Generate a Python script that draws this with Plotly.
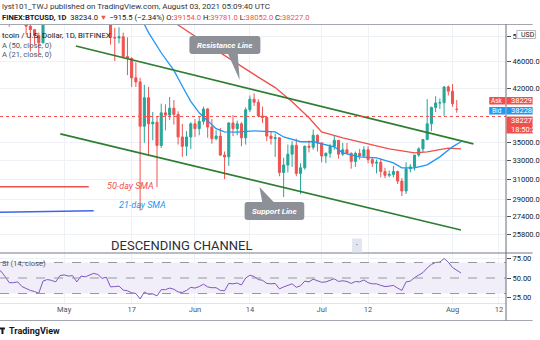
import math
import pandas as pd
import plotly.graph_objects as go

# ---------------- data ----------------
dates = pd.date_range("2021-04-15", "2021-08-03", freq="D")

opens = [63100, 63300, 61400, 60100, 56200, 55700, 56500, 53800, 51700, 51100, 50100, 48900, 54000, 55000, 54800, 53600,
         57700, 57800, 56600, 57200, 53200, 57500, 56400, 57400, 58900, 58300, 55900, 56700, 49800, 49700, 49900, 46700,
         46400, 43500, 42900, 37000, 40700, 37300, 37500, 34700, 38700, 38400, 39300, 38500, 35700, 34600, 35700,
         37300, 36700, 37600, 39200, 36900, 35500, 35800, 33600, 33400, 37400, 36700, 37300, 35600, 39100, 40500,
         40100, 38300, 38100, 35800, 35500, 35600, 31700, 32500, 33700, 34700, 31600, 32200, 34600, 34500, 35900,
         35000, 33500, 33800, 34600, 35300, 33700, 34200, 33800, 32900, 33800, 33500, 34200, 33100, 32700, 32800,
         31800, 31400, 31500, 31800, 30800, 29800, 32100, 32300, 33600, 34300, 35400, 37300, 39400, 40000, 40020,
         42200, 41600, 39154]
highs = [63800, 63600, 62500, 61100, 57500, 57000, 56800, 55500, 52100, 51200, 50600, 54400, 55400, 56400, 55200, 58000,
         58400, 57900, 58900, 57200, 57800, 58300, 58600, 59500, 59300, 59600, 56900, 57900, 51400, 51500, 50600, 49800,
         46600, 45800, 43500, 42500, 42200, 38800, 38200, 39900, 39800, 40800, 40400, 38900, 37300, 36400, 37500,
         37900, 38200, 39500, 39300, 37900, 36500, 36800, 34000, 37500, 38400, 37700, 37500, 39400, 41000, 41300,
         40500, 39500, 38200, 36400, 36100, 35700, 33300, 34800, 35200, 35500, 32700, 34700, 35300, 36600, 36000,
         35000, 33900, 34900, 35900, 35300, 35000, 35000, 33900, 34000, 34300, 34600, 34600, 33300, 33100, 33200,
         32200, 31900, 32400, 31900, 31100, 32800, 32600, 33600, 34500, 35400, 40500, 39500, 40900, 40600, 42300,
         42400, 42600, 40400, 39781]
lows = [62000, 60000, 59600, 51600, 54200, 53400, 53600, 50300, 47500, 48700, 47200, 48800, 53300, 53900, 52400, 53000,
        57000, 56000, 56500, 53100, 52900, 55300, 55400, 56900, 56300, 53500, 54400, 48600, 46000, 48800, 46600, 43900,
        42200, 42200, 27900, 35000, 33500, 35300, 30200, 34400, 36500, 37800, 37200, 34800, 33400, 33500, 34300,
        35700, 35900, 37200, 35600, 34900, 35300, 33500, 31000, 32400, 35800, 35900, 34600, 34800, 38800, 39600,
        38100, 37400, 35200, 34800, 33400, 31300, 29200, 31700, 32300, 31300, 29500, 32000, 33900, 34200, 34000,
        32800, 32700, 33300, 34200, 33200, 33500, 33700, 32100, 32300, 33100, 33300, 32700, 32300, 31600, 31200,
        31100, 31200, 31200, 30500, 29300, 29500, 31700, 31900, 33400, 33900, 35300, 36400, 38800, 39200, 38300,
        41000, 39500, 38700, 38052]
closes = [63300, 61400, 60100, 56200, 55700, 56500, 53800, 51700, 51100, 50100, 48900, 54000, 55000, 54800, 53600, 57700,
          57800, 56600, 57200, 53200, 57500, 56400, 57400, 58900, 58300, 55900, 56700, 49800, 49700, 49900, 46700, 46400,
          43500, 42900, 37000, 40700, 37300, 37500, 34700, 38700, 38400, 39300, 38500, 35700, 34600, 35700, 37300,
          36700, 37600, 39200, 36900, 35500, 35800, 33600, 33400, 37400, 36700, 37300, 35600, 39100, 40500, 40100,
          38300, 38100, 35800, 35500, 35600, 31700, 32500, 33700, 34700, 31600, 32200, 34600, 34500, 35900, 35000,
          33500, 33800, 34600, 35300, 33700, 34200, 33800, 32900, 33800, 33500, 34200, 33100, 32700, 32800, 31800,
          31400, 31500, 31800, 30800, 29800, 32100, 32300, 33600, 34300, 35400, 37300, 39400, 40000, 40020, 42200,
          41600, 39900, 39154, 38227]

rsi = [62, 59, 52, 44, 44, 45, 39, 36, 34, 32.5, 30.5, 46, 48, 47, 45, 53,
       54, 52.5, 53, 45, 52.5, 51.5, 53.5, 56, 54.5, 49.5, 51, 38.5, 39, 39.5, 34.5, 33.5, 31, 30, 23, 32, 29, 29.5,
       27, 35, 35, 37, 35.5, 32, 31.5, 34, 38,
       37, 39, 42, 38.5, 37.5, 37.5, 34, 33.5, 43, 42.5, 43.5, 41, 50, 53.5, 52, 48, 47, 43, 42.5, 43, 36, 38.5, 41,
       42.5, 38, 40, 46, 45, 48.5, 47,
       44.5, 45, 47, 49, 45.5, 46.5, 45.5, 43, 45.5, 45, 47.5, 44, 42.5, 42.5, 40.5, 39, 39.5, 40.5, 37, 34, 45, 46,
       50.5, 53.5, 57, 63, 67.5, 70, 70.5, 75, 70.5,
       63.5, 60.5, 56.5]

sma50_dates = ["2021-05-21", "2021-05-28", "2021-06-04", "2021-06-10", "2021-06-16", "2021-06-20", "2021-06-24",
               "2021-06-28", "2021-07-01", "2021-07-06", "2021-07-11", "2021-07-17", "2021-07-23", "2021-07-26",
               "2021-07-31", "2021-08-03"]
sma50 = [54800, 51900, 48600, 46000, 43600, 42100, 40150, 38060, 36310, 35590, 35000, 34300, 33850, 33950, 34400, 34300]

sma21_dates = ["2021-05-19", "2021-05-21", "2021-05-24", "2021-05-27", "2021-05-29", "2021-05-31", "2021-06-02",
               "2021-06-04", "2021-06-06", "2021-06-08", "2021-06-11", "2021-06-15", "2021-06-20", "2021-06-22",
               "2021-06-26", "2021-06-29", "2021-07-04", "2021-07-06", "2021-07-10", "2021-07-14", "2021-07-18",
               "2021-07-20", "2021-07-23", "2021-07-26", "2021-07-29", "2021-08-01", "2021-08-03"]
sma21 = [53500, 50600, 47300, 44600, 42300, 40200, 38700, 37700, 36700, 36300, 36270, 36440, 36310, 35700, 35130,
         35130, 34540, 33850, 33400, 33290, 32740, 32200, 32200, 32520, 33400, 34540, 35130]

upper_dates = ["2021-05-03 19:00", "2021-08-05 23:00"]
upper_prices = [48380, 34880]
lower_dates = ["2021-04-30 02:00", "2021-08-02 23:45"]
lower_prices = [36070, 26150]

price_ticks = [25800, 27400, 29000, 31000, 33000, 35000, 42000, 46000, 50000]
price_ticktext = ["25800.0", "27400.0", "29000.0", "31000.0", "33000.0", "35000.0", "42000.0", "46000.0", "5"]
time_tickvals = ["2021-05-01", "2021-05-17", "2021-06-01", "2021-06-14", "2021-07-01", "2021-07-12",
                 "2021-08-01", "2021-08-12"]
time_ticktext = ["May", "17", "Jun", "14", "Jul", "12", "Aug", "12"]
rsi_ticks = [25, 50, 75]

# ---------------- layout helpers ----------------
W, H = 540, 340
W_PLOT = 513
TOP, BOT = 25, 303
SPLIT = 253
X_RANGE = ["2021-04-15 19:30", "2021-08-13 16:00"]
FONT = "Roboto, 'Liberation Sans', sans-serif"
UP, DOWN = "#26a69a", "#ef5350"


def px(x):
    return x / W_PLOT


def py(y):
    return (BOT - y) / (BOT - TOP)


def rrect(x0, y0, x1, y1, r):
    X, Y = px, py
    return (f"M{X(x0 + r)},{Y(y0)} L{X(x1 - r)},{Y(y0)} Q{X(x1)},{Y(y0)} {X(x1)},{Y(y0 + r)} "
            f"L{X(x1)},{Y(y1 - r)} Q{X(x1)},{Y(y1)} {X(x1 - r)},{Y(y1)} L{X(x0 + r)},{Y(y1)} "
            f"Q{X(x0)},{Y(y1)} {X(x0)},{Y(y1 - r)} L{X(x0)},{Y(y0 + r)} Q{X(x0)},{Y(y0)} {X(x0 + r)},{Y(y0)} Z")


def tri(pts):
    return "M" + " L".join(f"{px(a)},{py(b)}" for a, b in pts) + " Z"


fig = go.Figure()

fig.add_trace(go.Candlestick(
    x=dates, open=opens, high=highs, low=lows, close=closes,
    increasing=dict(line=dict(color=UP, width=1), fillcolor=UP),
    decreasing=dict(line=dict(color=DOWN, width=1), fillcolor=DOWN),
    whiskerwidth=0, xaxis="x", yaxis="y", showlegend=False, hoverinfo="skip"))

fig.add_trace(go.Scatter(x=sma50_dates, y=sma50, mode="lines", line=dict(color="#f0504d", width=1.3),
                         xaxis="x", yaxis="y", showlegend=False, hoverinfo="skip"))
fig.add_trace(go.Scatter(x=sma21_dates, y=sma21, mode="lines", line=dict(color="#2196f3", width=1.3),
                         xaxis="x", yaxis="y", showlegend=False, hoverinfo="skip"))
fig.add_trace(go.Scatter(x=upper_dates, y=upper_prices, mode="lines", line=dict(color="#2e7d32", width=1.6),
                         xaxis="x", yaxis="y", showlegend=False, hoverinfo="skip"))
fig.add_trace(go.Scatter(x=lower_dates, y=lower_prices, mode="lines", line=dict(color="#2e7d32", width=1.6),
                         xaxis="x", yaxis="y", showlegend=False, hoverinfo="skip"))
fig.add_trace(go.Scatter(x=X_RANGE, y=[closes[-1], closes[-1]], mode="lines",
                         line=dict(color="#ef5350", width=1, dash="dot"),
                         xaxis="x", yaxis="y", showlegend=False, hoverinfo="skip"))

fig.add_trace(go.Scatter(x=dates, y=rsi, mode="lines", line=dict(color="#7e57c2", width=1),
                         xaxis="x2", yaxis="y2", showlegend=False, hoverinfo="skip"))

dom_split = py(SPLIT)
grid = "#eef1f6"

fig.update_layout(
    width=W, height=H, margin=dict(l=0, r=W - W_PLOT, t=TOP, b=H - BOT),
    paper_bgcolor="white", plot_bgcolor="white",
    font=dict(family=FONT, color="#131722", size=8),
    showlegend=False,
    xaxis=dict(domain=[0, 1], anchor="y", type="date", range=X_RANGE, rangeslider=dict(visible=False),
               tickvals=time_tickvals, showticklabels=False, showgrid=True, gridcolor=grid, zeroline=False,
               showline=False, ticks=""),
    yaxis=dict(domain=[dom_split, 1], anchor="x", type="log", side="right",
               range=[math.log10(24220), math.log10(51900)],
               tickvals=price_ticks, ticktext=price_ticktext,
               tickfont=dict(size=7.5, color="#131722"), ticks="outside", ticklen=4, tickcolor="#50535e",
               showgrid=True, gridcolor=grid, zeroline=False, showline=False),
    xaxis2=dict(domain=[0, 1], anchor="y2", type="date", range=X_RANGE,
                tickvals=time_tickvals, ticktext=time_ticktext, tickfont=dict(size=7.5, color="#50535e"),
                showgrid=True, gridcolor=grid, zeroline=False, showline=False, ticks=""),
    yaxis2=dict(domain=[0, dom_split], anchor="x2", side="right", range=[17.8, 82.2],
                tickvals=rsi_ticks, ticktext=[f"{v}.00" for v in rsi_ticks],
                tickfont=dict(size=7.5, color="#131722"), ticks="outside", ticklen=4, tickcolor="#50535e",
                showgrid=True, gridcolor=grid, zeroline=False, showline=False),
)

shapes = []
shapes.append(dict(type="rect", xref="paper", yref="y2", x0=0, x1=1, y0=30, y1=70,
                   fillcolor="rgba(126,87,194,0.10)", line=dict(width=0), layer="below"))
for lvl in (70, 50, 30):
    shapes.append(dict(type="line", xref="paper", yref="y2", x0=0, x1=1, y0=lvl, y1=lvl,
                       line=dict(color="#9598a1", width=1, dash="dash")))
shapes.append(dict(type="line", xref="paper", yref="paper", x0=0, x1=px(W), y0=py(24.5), y1=py(24.5),
                   line=dict(color="#a3a6af", width=1)))
shapes.append(dict(type="line", xref="paper", yref="paper", x0=0, x1=px(W), y0=py(SPLIT), y1=py(SPLIT),
                   line=dict(color="#a3a6af", width=1.5)))
shapes.append(dict(type="line", xref="paper", yref="paper", x0=0, x1=px(W), y0=py(320.5), y1=py(320.5),
                   line=dict(color="#a3a6af", width=1)))
shapes.append(dict(type="line", xref="paper", yref="paper", x0=0, x1=1, y0=py(303.5), y1=py(303.5),
                   line=dict(color="#e0e3eb", width=1)))
shapes.append(dict(type="line", xref="paper", yref="paper", x0=1, x1=1, y0=py(320.5), y1=py(24.5),
                   line=dict(color="#6a6d78", width=1)))
shapes.append(dict(type="line", xref="paper", yref="paper", x0=0, x1=px(90), y0=py(186.7), y1=py(186.7),
                   line=dict(color="#f0504d", width=1.5)))
shapes.append(dict(type="line", xref="paper", yref="paper", x0=0, x1=px(95), y0=py(212.3), y1=py(210.7),
                   line=dict(color="#3f64ea", width=1.5)))
CALL = "#8e9097"
shapes.append(dict(type="path", xref="paper", yref="paper", path=rrect(192, 36, 264, 54, 3),
                   fillcolor=CALL, line=dict(width=0)))
shapes.append(dict(type="path", xref="paper", yref="paper", path=tri([(231, 53.5), (241, 53.5), (243, 80)]),
                   fillcolor=CALL, line=dict(width=0)))
shapes.append(dict(type="path", xref="paper", yref="paper", path=rrect(248, 202, 308.5, 220, 3),
                   fillcolor=CALL, line=dict(width=0)))
shapes.append(dict(type="path", xref="paper", yref="paper", path=tri([(263, 187), (266, 202.5), (278, 202.5)]),
                   fillcolor=CALL, line=dict(width=0)))
shapes.append(dict(type="rect", xref="paper", yref="paper", x0=px(357), x1=px(367), y0=py(252.5), y1=py(238.5),
                   fillcolor="#dfe6ef", line=dict(width=0)))
shapes.append(dict(type="rect", xref="paper", yref="paper", x0=px(496), x1=px(512.5), y0=py(104.5), y1=py(97),
                   fillcolor="#f0504d", line=dict(width=0), layer="above"))
shapes.append(dict(type="rect", xref="paper", yref="paper", x0=px(496), x1=px(512.5), y0=py(114.5), y1=py(107),
                   fillcolor="#2196f3", line=dict(width=0), layer="above"))
shapes.append(dict(type="rect", xref="paper", yref="paper", x0=px(513.5), x1=px(W), y0=py(104.5), y1=py(97),
                   fillcolor="#f0504d", line=dict(width=0), layer="above"))
shapes.append(dict(type="rect", xref="paper", yref="paper", x0=px(513.5), x1=px(W), y0=py(114.5), y1=py(107),
                   fillcolor="#2196f3", line=dict(width=0), layer="above"))
shapes.append(dict(type="rect", xref="paper", yref="paper", x0=px(513.5), x1=px(W), y0=py(133.5), y1=py(116.5),
                   fillcolor="#f0504d", line=dict(width=0), layer="above"))
shapes.append(dict(type="rect", xref="paper", yref="paper", x0=px(524), x1=px(W + 3), y0=py(38.5), y1=py(30.5),
                   fillcolor="white", line=dict(color="#b2b5be", width=1), layer="above"))
shapes.append(dict(type="path", xref="paper", yref="paper",
                   path=tri([(0, 327.5), (5, 327.5), (5, 329.5), (3.5, 329.5), (3.5, 334), (1.5, 334),
                             (1.5, 329.5), (0, 329.5)]),
                   fillcolor="#131722", line=dict(width=0)))
fig.update_layout(shapes=shapes)

ann = []


def text(x, y, s, size=8, color="#131722", xanchor="left"):
    ann.append(dict(xref="paper", yref="paper", x=px(x), y=py(y), text=s, showarrow=False,
                    xanchor=xanchor, yanchor="middle", font=dict(size=size, color=color, family=FONT)))


RED = "#ef5350"
text(0, 6.5, "lyst101_TWJ published on TradingView.com, August 03, 2021 05:09:40 UTC", 8, "#333")
text(0, 17.5, "<b>FINEX:BTCUSD, 1D</b>  38234.0 <span style='color:%s'>▼</span> −915.5 (−2.34%%) "
              "O:<span style='color:%s'>39154.0</span> H:<span style='color:%s'>39781.0</span> "
              "L:<span style='color:%s'>38052.0</span> C:<span style='color:%s'>38227.0</span>"
     % (RED, RED, RED, RED, RED), 7.6, "#131722")
text(0, 35, "tcoin / U.S. Dollar, 1D, BITFINEX", 7.8, "#131722")
text(0, 45.5, "A (50, close, 0)", 7.6, "#50535e")
text(0, 54.5, "A (21, close, 0)", 7.6, "#50535e")
text(0, 263.5, "SI (14, close)", 7.6, "#50535e")
text(132.5, 186.5, "<i>50-day SMA</i>", 9, "#f0504d", xanchor="center")
text(144.5, 204.5, "<i>21-day SMA</i>", 9, "#2196f3", xanchor="center")
text(184, 246, "DESCENDING CHANNEL", 13, "#2a2e39", xanchor="center")
text(228, 45, "<b><i>Resistance Line</i></b>", 8, "white", xanchor="center")
text(278.5, 211, "<b><i>Support Line</i></b>", 8, "white", xanchor="center")
text(362, 245, "•", 5, "#6a6d78", xanchor="center")
text(7.5, 331, "<b>TradingView</b>", 9, "#131722")
text(504.3, 100.8, "Ask", 6.5, "white", xanchor="center")
text(504.3, 110.8, "Bid", 6.5, "white", xanchor="center")
text(516, 100.8, "38229.0", 7.5, "white")
text(516, 110.8, "38228.0", 7.5, "white")
text(516, 120.8, "38227.0", 7.5, "white")
text(516, 129.3, "18:50:20", 7.5, "white")
text(526, 34.5, "USD", 7, "#131722")
fig.update_layout(annotations=ann)

fig.write_html("out.html")
